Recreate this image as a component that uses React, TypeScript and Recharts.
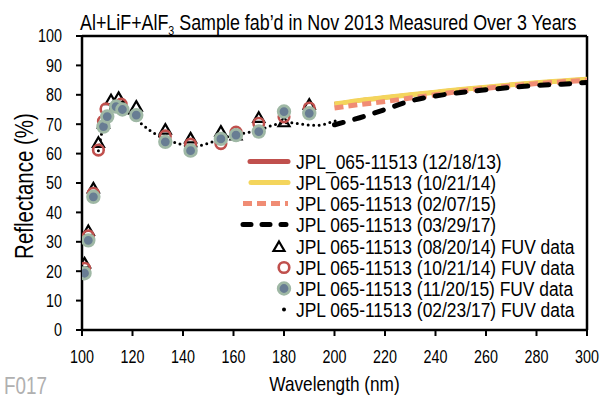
import React from 'react';
import { ComposedChart, Line, Scatter, XAxis, YAxis, ReferenceLine } from 'recharts';

const FONT = '"Liberation Sans", Arial, sans-serif';
const SX = 0.82; // horizontal condensation to mimic a narrow face

// Wavelength ticks and reflectance ticks
const xTicks = [100, 120, 140, 160, 180, 200, 220, 240, 260, 280, 300];
const yTicks = [0, 10, 20, 30, 40, 50, 60, 70, 80, 90, 100];

// Spectrophotometer lines (200-300 nm)
const lineWl = [200, 210, 220, 230, 240, 250, 260, 270, 280, 290, 300];
const line121813 = [76.9, 78.1, 79.1, 80.0, 80.9, 81.8, 82.6, 83.4, 84.1, 84.7, 85.3];
const line102114 = [76.9, 78.1, 79.1, 80.0, 80.9, 81.8, 82.6, 83.4, 84.1, 84.7, 85.3];
const line020715 = [75.5, 76.7, 77.7, 78.9, 80.0, 81.2, 82.2, 83.0, 83.8, 84.4, 84.9];
const line032917 = [69.8, 72.2, 75.0, 77.9, 79.6, 80.8, 81.7, 82.5, 83.2, 83.6, 84.2];

// FUV data (08/20/14) triangles
const triWl = [101, 102.5, 104.5, 106.5, 108.5, 111.5, 114.5, 121.5, 133, 143, 155, 161, 170, 180, 190];
const triVal = [22.5, 33.5, 48, 63.5, 70, 78, 78.8, 75.8, 68, 65, 67.3, 66, 72, 70.5, 76.5];

// FUV data (10/21/14) red circles
const redWl = [101, 102.5, 104.5, 106.5, 108.5, 109.5, 115.5, 133, 143, 155, 161, 170, 180, 190];
const redVal = [21, 32, 46.5, 61.2, 71, 75.2, 76.8, 66, 63.2, 63.4, 67.3, 70.3, 72.5, 75.5];

// FUV data (11/20/15) grey circles
const greyWl = [101, 102.5, 104.5, 108.5, 110, 113.5, 116, 121.5, 133, 143, 155, 161, 170, 180, 190];
const greyVal = [19.3, 30.5, 45.3, 69.2, 72.6, 76, 75, 73.1, 64, 61, 65, 66.3, 67.5, 74.3, 73.7];

// FUV data (02/23/17) dotted
const dotWl = [106.5, 108.5, 110, 112, 114, 116, 118, 121, 124, 127, 130, 133, 136, 139, 142, 145, 148, 151, 154, 157, 160, 163, 166, 169, 172, 175, 178, 181, 184, 187, 190, 193, 196, 199, 201];
const dotVal = [61, 69.5, 73, 76, 76.5, 75.5, 74, 72, 69.8, 67.8, 66.2, 65, 64, 63.2, 62.5, 62.4, 63, 63.8, 64.7, 65.6, 66.3, 66.8, 67.2, 67.8, 68.6, 69.5, 70.2, 70.5, 70.4, 70, 69.7, 69.6, 70, 70.8, 71.2];

const legendLabels = [
  'JPL_065-11513 (12/18/13)',
  'JPL 065-11513 (10/21/14)',
  'JPL 065-11513 (02/07/15)',
  'JPL 065-11513 (03/29/17)',
  'JPL 065-11513 (08/20/14) FUV data',
  'JPL 065-11513 (10/21/14) FUV data',
  'JPL 065-11513 (11/20/15) FUV data',
  'JPL 065-11513 (02/23/17) FUV data',
];

const RED = '#c0504d';
const YELLOW = '#f4d55c';
const SALMON = '#f08c74';
const GREY_FILL = '#687d93';
const GREY_RING = '#9fb8a5';

const zip = (xs: number[], ys: number[]) => xs.map((x, i) => ({ x, y: ys[i] }));

const CText = (p: any) => (
  <text
    transform={`translate(${p.x},${p.y})${p.rotate ? ` rotate(${p.rotate})` : ''} scale(${p.sx || SX},1)`}
    textAnchor={p.anchor || 'start'}
    fontFamily={FONT}
    fontSize={p.size}
    fill={p.color || '#000'}
  >
    {p.children}
  </text>
);

const Triangle = (p: any) => {
  const { cx, cy } = p;
  if (cx == null || cy == null) return null;
  return <path d={`M${cx},${cy - 6} L${cx + 5.5},${cy + 3.5} L${cx - 5.5},${cy + 3.5} Z`} fill="none" stroke="#000" strokeWidth={2.2} />;
};
const RedCircle = (p: any) => {
  const { cx, cy } = p;
  if (cx == null || cy == null) return null;
  return <circle cx={cx} cy={cy} r={5.3} fill="none" stroke={RED} strokeWidth={2.6} />;
};
const GreyCircle = (p: any) => {
  const { cx, cy } = p;
  if (cx == null || cy == null) return null;
  return <circle cx={cx} cy={cy} r={5.8} fill={GREY_FILL} stroke={GREY_RING} strokeWidth={2.8} />;
};

const XTick = (p: any) => (
  <CText x={p.x} y={p.y + 13} anchor="middle" size={17.5}>{p.payload.value}</CText>
);
const YTick = (p: any) => (
  <CText x={p.x} y={p.y + 6.3} anchor="end" size={17.5}>{p.payload.value}</CText>
);
const XLabel = (p: any) => {
  const vb = p.viewBox || { x: 82, width: 505, y: 330, height: 30 };
  return <CText x={vb.x + vb.width / 2} y={vb.y + vb.height + 31} anchor="middle" size={21}>Wavelength (nm)</CText>;
};
const YLabel = (p: any) => {
  const vb = p.viewBox || { x: 22, width: 60, y: 36, height: 294 };
  return <CText x={vb.x + 11} y={vb.y + vb.height / 2 + 3} rotate={-90} anchor="middle" size={25}>Reflectance (%)</CText>;
};

const legendRows = [161.5, 182.5, 203.5, 224.5, 246.5, 267.5, 288.5, 309.5];

const Overlay = () => (
  <svg width={608} height={400} style={{ position: 'absolute', left: 0, top: 0, pointerEvents: 'none' }}>
    <text transform={`translate(80,30) scale(${SX},1)`} fontFamily={FONT} fontSize={21.8} fill="#000">
      Al+LiF+AlF<tspan dy={5} fontSize={13}>3</tspan><tspan dy={-5}> Sample fab’d in Nov 2013 Measured Over 3 Years</tspan>
    </text>
    <CText x={4} y={394} size={23} color="#b0b0b0">F017</CText>
    <line x1={250} x2={288} y1={legendRows[0]} y2={legendRows[0]} stroke={RED} strokeWidth={5} strokeLinecap="round" />
    <line x1={251} x2={288} y1={legendRows[1]} y2={legendRows[1]} stroke={YELLOW} strokeWidth={5} strokeLinecap="round" />
    <line x1={243} x2={288} y1={legendRows[2]} y2={legendRows[2]} stroke={SALMON} strokeWidth={5} strokeDasharray="9 5" />
    <line x1={243} x2={286} y1={legendRows[3]} y2={legendRows[3]} stroke="#000" strokeWidth={5} strokeDasharray="8 11" strokeLinecap="round" />
    <Triangle cx={279} cy={legendRows[4] + 1} />
    <RedCircle cx={284} cy={legendRows[5]} />
    <GreyCircle cx={284} cy={legendRows[6]} />
    <circle cx={284} cy={legendRows[7]} r={2} fill="#000" />
    {legendLabels.map((t, i) => (
      <CText key={i} x={296} y={legendRows[i] + 7.2} size={20} sx={0.87}>{t}</CText>
    ))}
  </svg>
);

export default function App() {
  return (
    <div style={{ position: 'absolute', left: 0, top: 0, width: 608, height: 400, background: '#fff' }}>
      <ComposedChart width={608} height={400} margin={{ top: 36, right: 21, bottom: 40, left: 22 }}>
        <XAxis
          type="number"
          dataKey="x"
          domain={[100, 300]}
          ticks={xTicks}
          allowDataOverflow
          height={30}
          axisLine={{ stroke: '#000', strokeWidth: 2.5 }}
          tickLine={{ stroke: '#000', strokeWidth: 2 }}
          tickSize={6}
          tickMargin={14}
          tick={<XTick />}
          label={<XLabel />}
        />
        <YAxis
          type="number"
          dataKey="y"
          domain={[0, 100]}
          ticks={yTicks}
          width={60}
          axisLine={{ stroke: '#000', strokeWidth: 2.5 }}
          tickLine={{ stroke: '#000', strokeWidth: 2 }}
          tickSize={6}
          tickMargin={14}
          tick={<YTick />}
          label={<YLabel />}
        />
        <ReferenceLine y={100} stroke="#000" strokeWidth={2.5} />
        <ReferenceLine x={300} stroke="#000" strokeWidth={2.5} />
        <Line data={zip(lineWl, line121813)} dataKey="y" type="monotone" stroke={RED} strokeWidth={4} dot={false} isAnimationActive={false} />
        <Line data={zip(lineWl, line102114)} dataKey="y" type="monotone" stroke={YELLOW} strokeWidth={5} dot={false} isAnimationActive={false} />
        <Line data={zip(lineWl, line020715)} dataKey="y" type="monotone" stroke={SALMON} strokeWidth={5} strokeDasharray="9 5" dot={false} isAnimationActive={false} />
        <Line data={zip(lineWl, line032917)} dataKey="y" type="monotone" stroke="#000" strokeWidth={5} strokeDasharray="9 12" strokeLinecap="round" dot={false} isAnimationActive={false} />
        <Scatter data={zip(triWl, triVal)} dataKey="y" shape={Triangle} isAnimationActive={false} />
        <Scatter data={zip(redWl, redVal)} dataKey="y" shape={RedCircle} isAnimationActive={false} />
        <Scatter data={zip(greyWl, greyVal)} dataKey="y" shape={GreyCircle} isAnimationActive={false} />
        <Line data={zip(dotWl, dotVal)} dataKey="y" type="monotone" stroke="#000" strokeWidth={3} strokeDasharray="0 5.5" strokeLinecap="round" dot={false} isAnimationActive={false} />
      </ComposedChart>
      <Overlay />
    </div>
  );
}
